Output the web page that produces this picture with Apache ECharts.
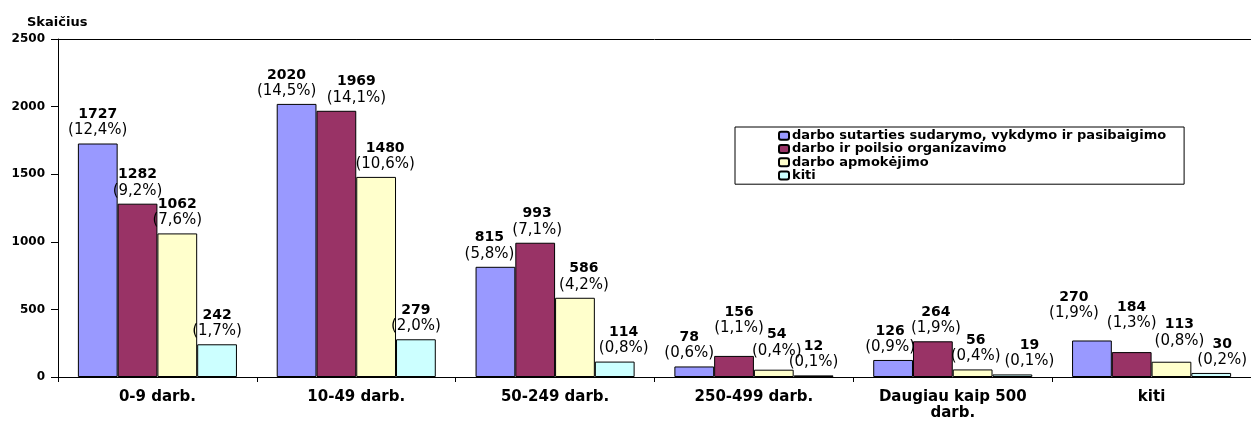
<!DOCTYPE html>
<html>
<head>
<meta charset="utf-8">
<script src="https://cdn.jsdelivr.net/npm/echarts@6/dist/echarts.min.js"></script>
<style>
html, body { margin: 0; padding: 0; background: #fff; }
#main { width: 1251px; height: 421px; }
</style>
</head>
<body>
<div id="main"></div>
<script>
const categories = ['0-9 darb.', '10-49 darb.', '50-249 darb.', '250-499 darb.', 'Daugiau kaip 500\ndarb.', 'kiti'];
const seriesNames = [
  'darbo sutarties sudarymo, vykdymo ir pasibaigimo',
  'darbo ir poilsio organizavimo',
  'darbo apmokėjimo',
  'kiti'
];
const sutartiesValues = [1727, 2020, 815, 78, 126, 270];
const poilsioValues = [1282, 1969, 993, 156, 264, 184];
const apmokejimoValues = [1062, 1480, 586, 54, 56, 113];
const kitiValues = [242, 279, 114, 12, 19, 30];
const sutartiesPct = [12.4, 14.5, 5.8, 0.6, 0.9, 1.9];
const poilsioPct = [9.2, 14.1, 7.1, 1.1, 1.9, 1.3];
const apmokejimoPct = [7.6, 10.6, 4.2, 0.4, 0.4, 0.8];
const kitiPct = [1.7, 2.0, 0.8, 0.1, 0.1, 0.2];
const yTicks = [0, 500, 1000, 1500, 2000, 2500];

// label nudges (px) where the original moved them to avoid overlap
const labelShift = [
  [[0, 0], [-10, 0], [-6, 0], [-5, 0], [-3, 0], [-18, -14]],
  [[0, 0], [20, 0], [2, 0], [5, -15], [3, 0], [0, -16]],
  [[0, 0], [9, 0], [9, 0], [3, -6], [3, 0], [8, -8]],
  [[0, 0], [0, 0], [9, 0], [0, 0], [17, 0], [11, 0]]
];

const colors = ['#9999FF', '#993366', '#FFFFCC', '#CCFFFF'];
const values = [sutartiesValues, poilsioValues, apmokejimoValues, kitiValues];
const pcts = [sutartiesPct, poilsioPct, apmokejimoPct, kitiPct];
const font = 'DejaVu Sans';

function pctText(p) {
  return '(' + p.toFixed(1).replace('.', ',') + '%)';
}

let series = values.map(function (vals, s) {
  return {
    name: seriesNames[s],
    type: 'bar',
    barGap: '0%',
    barCategoryGap: '20%',
    itemStyle: { color: colors[s], borderColor: '#000', borderWidth: 1 },
    data: vals.map(function (v, i) {
      return { value: v, label: { offset: labelShift[s][i] } };
    }),
    label: {
      show: true,
      position: 'top',
      distance: 5,
      formatter: function (p) {
        return '{v|' + p.value + '}\n{p|' + pctText(pcts[s][p.dataIndex]) + '}';
      },
      rich: {
        v: { fontFamily: font, fontWeight: 'bold', fontSize: 14, lineHeight: 16, color: '#000' },
        p: { fontFamily: font, fontSize: 15, lineHeight: 16, color: '#000' }
      }
    }
  };
});

let option = {
  animation: false,
  title: {
    text: 'Skaičius',
    left: 22,
    top: 11,
    textStyle: { fontFamily: font, fontWeight: 'bold', fontSize: 13, color: '#000' }
  },
  legend: {
    orient: 'vertical',
    left: 735,
    top: 127,
    padding: [2, 18, 2, 43],
    itemGap: 0,
    itemWidth: 10,
    itemHeight: 8,
    borderColor: '#000',
    borderWidth: 1,
    textStyle: { fontFamily: font, fontWeight: 'bold', fontSize: 13, lineHeight: 13.3, color: '#000', padding: [0, 0, 0, -2] },
    data: seriesNames
  },
  grid: { left: 58, right: 0, top: 39, bottom: 42 },
  xAxis: [
    {
      type: 'category',
      data: categories,
      axisLine: { lineStyle: { color: '#000', width: 1 } },
      axisTick: { show: true, length: 5, lineStyle: { color: '#000' } },
      axisLabel: {
        margin: 12,
        fontFamily: font,
        fontWeight: 'bold',
        fontSize: 15,
        lineHeight: 16,
        color: '#000'
      }
    },
    {
      type: 'category',
      position: 'top',
      data: categories,
      axisLine: { lineStyle: { color: '#000', width: 1 } },
      axisTick: { show: false },
      axisLabel: { show: false }
    }
  ],
  yAxis: {
    type: 'value',
    min: yTicks[0],
    max: yTicks[yTicks.length - 1],
    interval: 500,
    axisLine: { show: true, lineStyle: { color: '#000', width: 1 } },
    axisTick: { show: true, length: 7, lineStyle: { color: '#000' } },
    splitLine: { show: false },
    axisLabel: {
      margin: 13,
      fontFamily: font,
      fontWeight: 'bold',
      fontSize: 12,
      color: '#000',
      formatter: function (v) { return String(v); }
    }
  },
  series: series
};

let myChart = echarts.init(document.getElementById('main'));
myChart.setOption(option);
</script>
</body>
</html>
